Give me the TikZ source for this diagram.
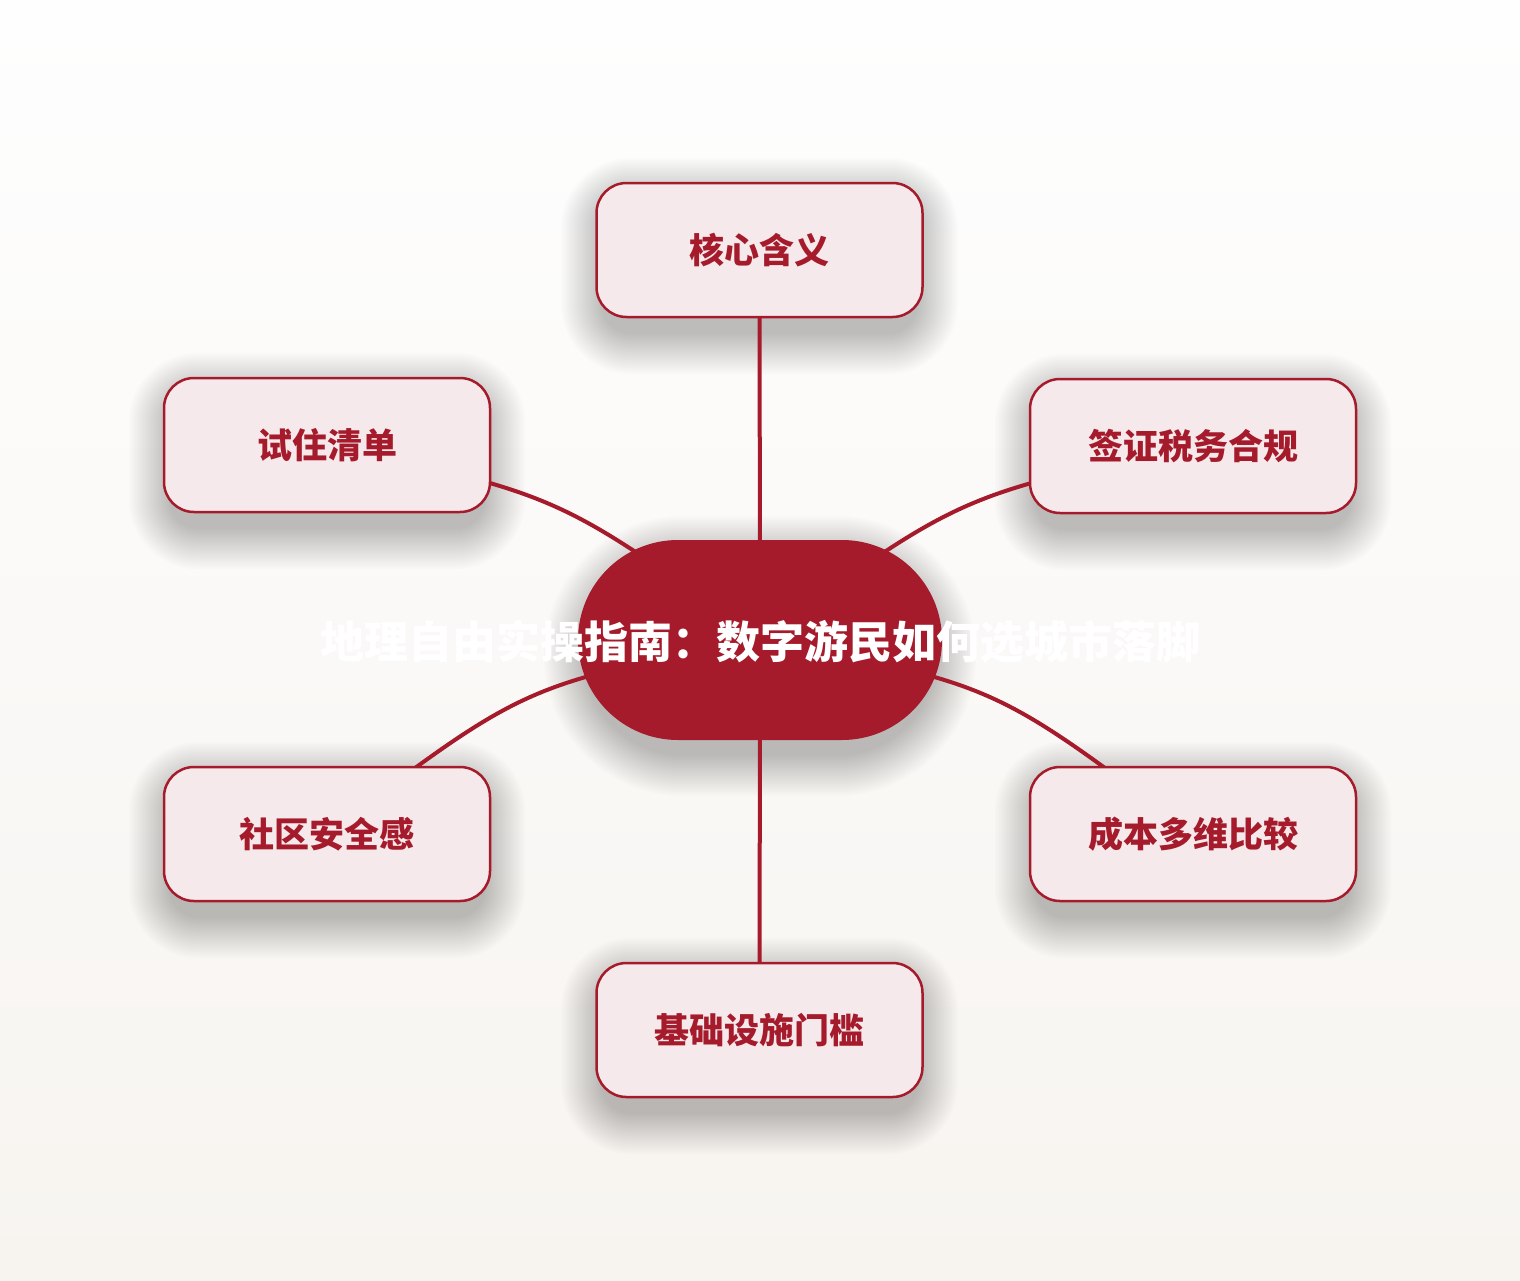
\documentclass[tikz,border=0pt]{standalone}
\usepackage{fontspec}
\newfontfamily\cjk{Noto Sans CJK SC}
\usetikzlibrary{backgrounds}
\definecolor{dred}{HTML}{A51B2B}
\definecolor{pinkfill}{HTML}{F5E9EC}
\definecolor{bgtop}{HTML}{FEFEFE}
\definecolor{bgbot}{HTML}{F7F4F0}
\newcommand{\softshadow}[2]{% node name, corner radius
  \foreach \k in {0,2,...,40}{
    \fill[black, opacity=0.010, rounded corners=#2+\k]
      ([shift={(-\k+6,16-\k)}]#1.north west) rectangle ([shift={(\k-6,16+\k)}]#1.south east);
  }}
\begin{document}
\begin{tikzpicture}[x=1pt,y=-1pt,
  leaf/.style={draw=dred, line width=2.5pt, fill=pinkfill, rounded corners=30pt,
    minimum width=326pt, minimum height=134pt, inner sep=0pt, text=dred,
    font=\cjk\bfseries\fontsize{35}{40}\selectfont},
  hub/.style={fill=dred, rounded corners=100pt, minimum width=364pt, minimum height=200pt,
    inner sep=0pt},
  conn/.style={draw=dred, line width=4pt, line cap=round}]
\useasboundingbox (0,0) rectangle (1520,1280);
\node[hub] (c) at (760,640) {};
\node[leaf] (t) at (759.5,250) {核心含义};
\node[leaf] (ul) at (327,445) {试住清单};
\node[leaf] (ur) at (1193,446) {签证税务合规};
\node[leaf] (ll) at (327,834) {社区安全感};
\node[leaf] (lr) at (1193,834) {成本多维比较};
\node[leaf] (b) at (759.5,1030) {基础设施门槛};
\node[text=white, font=\cjk\bfseries\fontsize{44}{50}\selectfont] (title) at (760,642) {地理自由实操指南：数字游民如何选城市落脚};
\begin{scope}[on background layer]
  \shade[top color=bgtop, bottom color=bgbot] (0,0) rectangle (1520,1280);
  \softshadow{c}{100}
  \softshadow{t}{30}
  \softshadow{b}{30}
  \softshadow{ul}{30}
  \softshadow{ur}{30}
  \softshadow{ll}{30}
  \softshadow{lr}{30}
  \draw[conn] (t.center) -- (c.center);
  \draw[conn] (b.center) -- (c.center);
  \draw[conn] (ul.center) .. controls (560,495) .. (c.center);
  \draw[conn] (ur.center) .. controls (960,495) .. (c.center);
  \draw[conn] (ll.center) .. controls (525,684) .. (c.center);
  \draw[conn] (lr.center) .. controls (995,684) .. (c.center);
\end{scope}
\end{tikzpicture}
\end{document}
